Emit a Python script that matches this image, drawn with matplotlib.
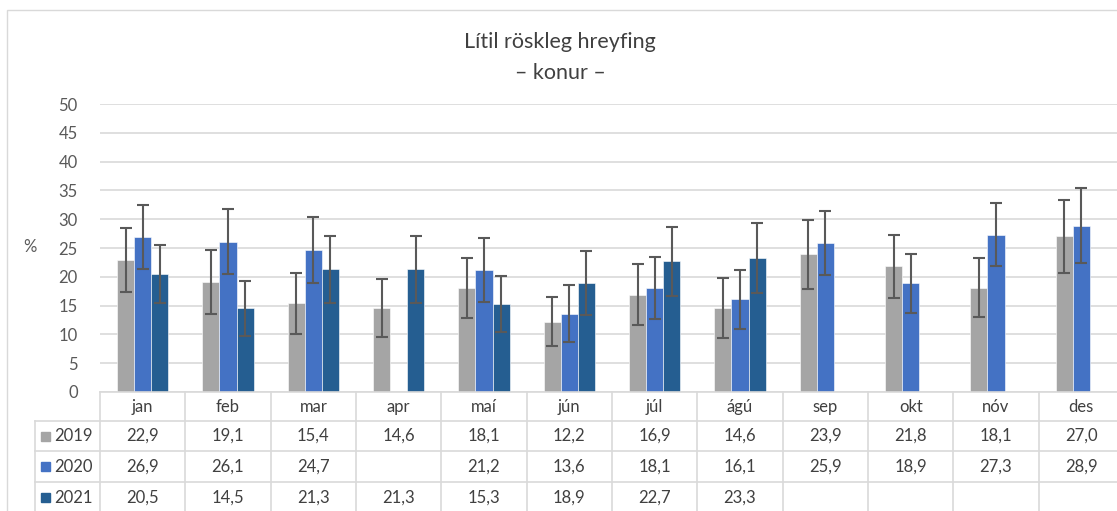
import numpy as np
import matplotlib.pyplot as plt
from matplotlib.patches import Rectangle
from matplotlib.lines import Line2D

plt.rcParams['font.family'] = ['Lato', 'DejaVu Sans']

# donnees
manudir = ['jan', 'feb', 'mar', 'apr', 'maí', 'jún', 'júl', 'ágú', 'sep', 'okt', 'nóv', 'des']
ar = ['2019', '2020', '2021']
gildi_2019 = [22.9, 19.1, 15.4, 14.6, 18.1, 12.2, 16.9, 14.6, 23.9, 21.8, 18.1, 27.0]
gildi_2020 = [26.9, 26.1, 24.7, np.nan, 21.2, 13.6, 18.1, 16.1, 25.9, 18.9, 27.3, 28.9]
gildi_2021 = [20.5, 14.5, 21.3, 21.3, 15.3, 18.9, 22.7, 23.3, np.nan, np.nan, np.nan, np.nan]
# skekkjumork (+/-), lesin af myndinni
skekkja_2019 = [5.5, 5.5, 5.3, 5.0, 5.2, 4.3, 5.3, 5.2, 6.0, 5.5, 5.1, 6.4]
skekkja_2020 = [5.6, 5.7, 5.7, np.nan, 5.6, 4.9, 5.4, 5.1, 5.6, 5.1, 5.5, 6.5]
skekkja_2021 = [5.1, 4.8, 5.8, 5.8, 4.9, 5.6, 6.0, 6.1, np.nan, np.nan, np.nan, np.nan]

litir = ['#A5A5A5', '#4472C4', '#255E91']
grid_litur = '#D9D9D9'
texti_litur = '#404040'

W, H = 1117, 511
fig = plt.figure(figsize=(W / 100, H / 100), dpi=100)

def fx(px):
    return px / W

def fy(py):
    return 1 - py / H

# ramma
fig.patches.append(Rectangle((fx(7), fy(530)), fx(1120) - fx(7), fy(10) - fy(530),
                             transform=fig.transFigure, fill=False,
                             edgecolor='#D9D9D9', linewidth=1, clip_on=False))

left_px, right_px, top_px, bot_px = 100, 1124, 104, 392
ax = fig.add_axes([fx(left_px), fy(bot_px), fx(right_px) - fx(left_px), fy(top_px) - fy(bot_px)])

x = np.arange(len(manudir))
w = 0.2
for i, (vals, errs) in enumerate([(gildi_2019, skekkja_2019), (gildi_2020, skekkja_2020),
                                   (gildi_2021, skekkja_2021)]):
    ax.bar(x + (i - 1) * w, vals, w, color=litir[i], edgecolor='#FFFFFF', linewidth=0.4,
           yerr=errs, error_kw=dict(ecolor='#595959', elinewidth=1.5, capsize=4, capthick=1.5),
           zorder=3)

ax.set_xlim(-0.5, len(manudir) - 0.5)
ax.set_ylim(0, 50)
ax.set_yticks(range(0, 51, 5))
ax.yaxis.grid(True, color=grid_litur, linewidth=1.2, zorder=0)
ax.set_xticks([])
for s in ax.spines.values():
    s.set_visible(False)
ax.tick_params(axis='y', length=0, labelsize=12, labelcolor='#595959', pad=16)

fig.text(fx(30), fy(247), '%', ha='center', va='center', fontsize=12, color='#595959')
fig.text(fx(560), fy(42), 'Lítil röskleg hreyfing', ha='center', va='center',
         fontsize=15.5, color=texti_litur)
fig.text(fx(560), fy(73), '– konur –', ha='center', va='center',
         fontsize=15.5, color=texti_litur)

# tafla
col_w = (right_px - left_px) / len(manudir)
row_y = [392, 421, 451, 482, 513]
lines = []
lines.append(((left_px, 1130), (row_y[0], row_y[0])))
for yy in row_y[1:4]:
    lines.append(((35, 1130), (yy, yy)))
lines.append(((35, 35), (row_y[1], 515)))
for k in range(len(manudir) + 1):
    xx = left_px + k * col_w
    lines.append(((xx, xx), (row_y[0], 515)))
for (xs, ys) in lines:
    fig.add_artist(Line2D([fx(xs[0]), fx(xs[1])], [fy(ys[0]), fy(ys[1])],
                          transform=fig.transFigure, color=grid_litur, linewidth=1.2))

for k, m in enumerate(manudir):
    fig.text(fx(left_px + (k + 0.5) * col_w), fy((row_y[0] + row_y[1]) / 2), m,
             ha='center', va='center', fontsize=12, color=texti_litur)

for r, (label, vals) in enumerate(zip(ar, [gildi_2019, gildi_2020, gildi_2021])):
    yc = (row_y[r + 1] + row_y[r + 2]) / 2
    fig.patches.append(Rectangle((fx(41), fy(yc + 4.5)), fx(9), fy(0) - fy(9),
                                 transform=fig.transFigure, color=litir[r]))
    fig.text(fx(54), fy(yc), label, ha='left', va='center', fontsize=12, color=texti_litur)
    for k, v in enumerate(vals):
        if np.isnan(v):
            continue
        fig.text(fx(left_px + (k + 0.5) * col_w), fy(yc), f'{v:.1f}'.replace('.', ','),
                 ha='center', va='center', fontsize=12, color=texti_litur)

plt.savefig('out.png', dpi=100)
